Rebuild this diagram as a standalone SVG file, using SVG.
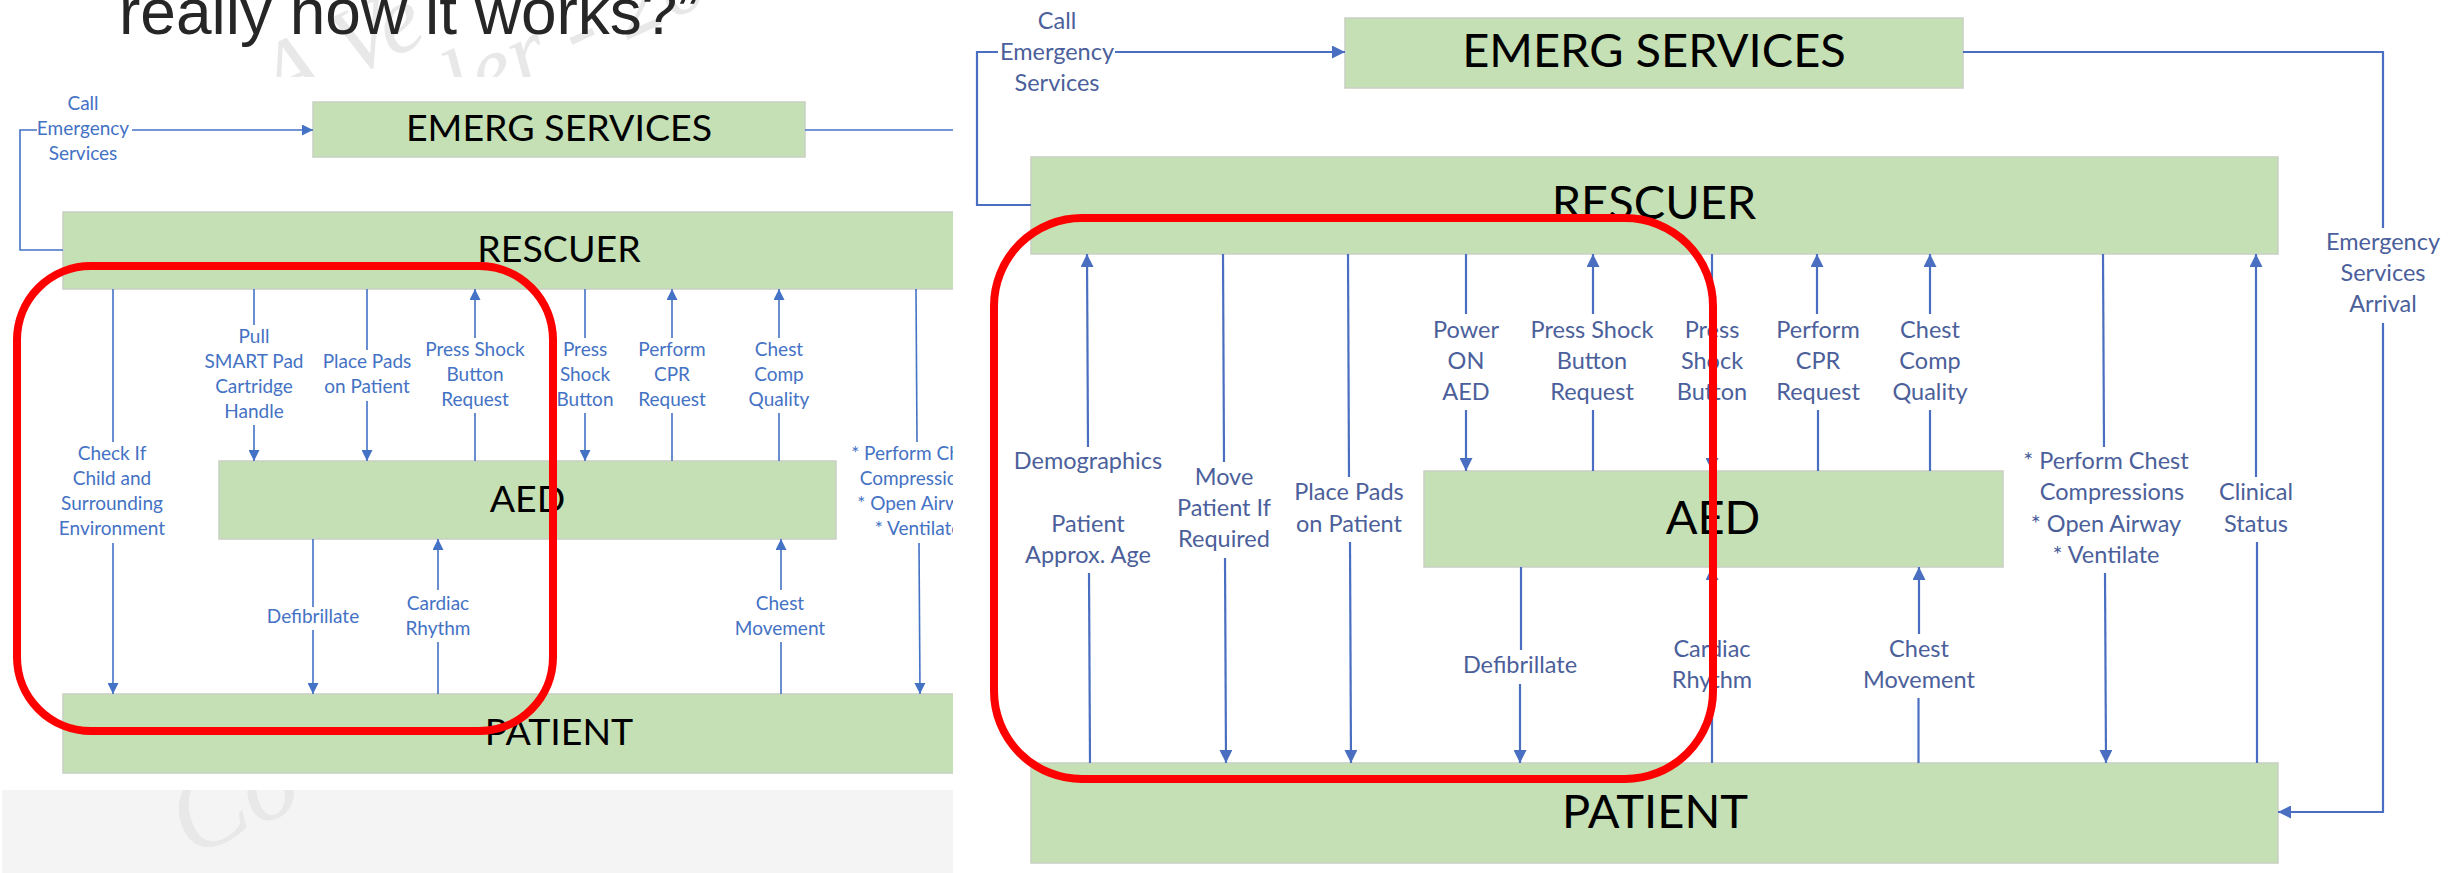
<svg xmlns="http://www.w3.org/2000/svg" width="2458" height="873" viewBox="0 0 2458 873">
  <defs>
    <style>
      .box{fill:#c5e0b4;stroke:#c9cfc4;stroke-width:1.5}
      .nl{font-family:Lato,'Liberation Sans',sans-serif;fill:#000;text-anchor:middle}
      .nl-l{font-size:37.5px}
      .nl-r{font-size:47px}
      .lb{font-family:Lato,'Liberation Sans',sans-serif;text-anchor:middle}
      .lb-l{font-size:19px;fill:#4472c4}
      .lb-r{font-size:23.5px;fill:#4b609a}
      .cl{fill:none;stroke:#4472c4;stroke-width:1.6}
      .cr{fill:none;stroke:#4a6fc0;stroke-width:2.2}
      .al{marker-end:url(#ahL)}
      .ar{marker-end:url(#ahR)}
      .hl{fill:none;stroke:#ff0000;stroke-width:8}
      .wm{font-family:'Liberation Serif',serif;font-style:italic;fill:#e8e8e8}
      .title{font-family:'Liberation Sans',Arial,sans-serif;font-size:64px;fill:#262626}
    </style>
    <marker id="ahL" viewBox="0 0 10 10" refX="10" refY="5" markerWidth="13" markerHeight="11" markerUnits="userSpaceOnUse" orient="auto">
      <path d="M0,0L10,5L0,10z" fill="#4472c4"/>
    </marker>
    <marker id="ahR" viewBox="0 0 10 10" refX="10" refY="5" markerWidth="15" markerHeight="13" markerUnits="userSpaceOnUse" orient="auto">
      <path d="M0,0L10,5L0,10z" fill="#4a6fc0"/>
    </marker>
    <clipPath id="clipL"><rect x="0" y="0" width="953" height="873"/></clipPath>
    <clipPath id="clipWm">
      <rect x="0" y="0" width="953" height="77"/>
      <rect x="0" y="790" width="953" height="83"/>
    </clipPath>
  </defs>

  <rect x="0" y="0" width="2458" height="873" fill="#ffffff"/>

  <!-- left slide: background strip, watermark, title -->
  <g id="slide-left" clip-path="url(#clipL)">
    <rect x="2" y="790" width="951" height="83" fill="#f4f4f4"/>
    <g clip-path="url(#clipWm)">
      <text class="wm" font-size="95" transform="translate(276,112) rotate(-25)">A Ve</text>
      <text class="wm" font-size="95" transform="translate(460,118) rotate(-25)">ler - 20</text>
      <text class="wm" font-size="110" transform="translate(190,858) rotate(-25)" fill="#e4e4e4">Co</text>
    </g>
    <text class="title" x="119" y="34">really how it works?”</text>

    <!-- nodes -->
    <g id="l-emerg">
      <rect class="box" x="313" y="102" width="492" height="55"/>
      <text class="nl nl-l" x="559" y="141">EMERG SERVICES</text>
    </g>
    <g id="l-rescuer">
      <rect class="box" x="63" y="212" width="992" height="77"/>
      <text class="nl nl-l" x="559" y="262">RESCUER</text>
    </g>
    <g id="l-aed">
      <rect class="box" x="219" y="461" width="617" height="78"/>
      <text class="nl nl-l" x="527.5" y="512">AED</text>
    </g>
    <g id="l-patient">
      <rect class="box" x="63" y="694" width="992" height="79"/>
      <text class="nl nl-l" x="559" y="745">PATIENT</text>
    </g>

    <!-- connectors -->
    <g id="l-connectors">
      <polyline class="cl" points="63,250 20,250 20,130 37,130"/>
      <line class="cl al" x1="132" y1="130" x2="313" y2="130"/>
      <line class="cl" x1="805" y1="130" x2="953" y2="130"/>

      <line class="cl" x1="113" y1="289" x2="113" y2="442"/>
      <line class="cl al" x1="113" y1="543" x2="113" y2="694"/>

      <line class="cl" x1="254" y1="289" x2="254" y2="325"/>
      <line class="cl al" x1="254" y1="425" x2="254" y2="461"/>

      <line class="cl" x1="367" y1="289" x2="367" y2="350"/>
      <line class="cl al" x1="367" y1="401" x2="367" y2="461"/>

      <line class="cl al" x1="475" y1="338" x2="475" y2="289"/>
      <line class="cl" x1="475" y1="461" x2="475" y2="413"/>

      <line class="cl" x1="585" y1="289" x2="585" y2="338"/>
      <line class="cl al" x1="585" y1="413" x2="585" y2="461"/>

      <line class="cl al" x1="672" y1="338" x2="672" y2="289"/>
      <line class="cl" x1="672" y1="461" x2="672" y2="413"/>

      <line class="cl al" x1="779" y1="338" x2="779" y2="289"/>
      <line class="cl" x1="779" y1="461" x2="779" y2="413"/>

      <line class="cl" x1="916" y1="289" x2="917" y2="442"/>
      <line class="cl al" x1="919" y1="543" x2="920" y2="694"/>

      <line class="cl" x1="313" y1="539" x2="313" y2="607"/>
      <line class="cl al" x1="313" y1="630" x2="313" y2="694"/>

      <line class="cl al" x1="438" y1="590" x2="438" y2="539"/>
      <line class="cl" x1="438" y1="694" x2="438" y2="642"/>

      <line class="cl al" x1="781" y1="590" x2="781" y2="539"/>
      <line class="cl" x1="781" y1="694" x2="781" y2="642"/>
    </g>

    <!-- connector labels -->
    <g id="l-labels" class="lb lb-l">
      <text><tspan x="83" y="110">Call</tspan><tspan x="83" y="135">Emergency</tspan><tspan x="83" y="160">Services</tspan></text>
      <text><tspan x="112" y="460">Check If</tspan><tspan x="112" y="485">Child and</tspan><tspan x="112" y="510">Surrounding</tspan><tspan x="112" y="535">Environment</tspan></text>
      <text><tspan x="254" y="343">Pull</tspan><tspan x="254" y="368">SMART Pad</tspan><tspan x="254" y="393">Cartridge</tspan><tspan x="254" y="418">Handle</tspan></text>
      <text><tspan x="367" y="368">Place Pads</tspan><tspan x="367" y="393">on Patient</tspan></text>
      <text><tspan x="475" y="356">Press Shock</tspan><tspan x="475" y="381">Button</tspan><tspan x="475" y="406">Request</tspan></text>
      <text><tspan x="585" y="356">Press</tspan><tspan x="585" y="381">Shock</tspan><tspan x="585" y="406">Button</tspan></text>
      <text><tspan x="672" y="356">Perform</tspan><tspan x="672" y="381">CPR</tspan><tspan x="672" y="406">Request</tspan></text>
      <text><tspan x="779" y="356">Chest</tspan><tspan x="779" y="381">Comp</tspan><tspan x="779" y="406">Quality</tspan></text>
      <text><tspan x="918" y="460">* Perform Chest</tspan><tspan x="918" y="485">Compressions</tspan><tspan x="918" y="510">* Open Airway</tspan><tspan x="918" y="535">* Ventilate</tspan></text>
      <text x="313" y="623">Defibrillate</text>
      <text><tspan x="438" y="610">Cardiac</tspan><tspan x="438" y="635">Rhythm</tspan></text>
      <text><tspan x="780" y="610">Chest</tspan><tspan x="780" y="635">Movement</tspan></text>
    </g>

    <rect id="l-highlight" class="hl" x="17" y="266" width="536" height="465" rx="74" ry="74"/>
  </g>

  <!-- right diagram: nodes -->
  <g id="r-emerg">
    <rect class="box" x="1345" y="18" width="618" height="70"/>
    <text class="nl nl-r" x="1654" y="67">EMERG SERVICES</text>
  </g>
  <g id="r-rescuer">
    <rect class="box" x="1031" y="157" width="1247" height="97"/>
    <text class="nl nl-r" x="1654" y="219">RESCUER</text>
  </g>
  <g id="r-aed">
    <rect class="box" x="1424" y="471" width="579" height="96"/>
    <text class="nl nl-r" x="1713" y="534">AED</text>
  </g>
  <g id="r-patient">
    <rect class="box" x="1031" y="763" width="1247" height="100"/>
    <text class="nl nl-r" x="1655" y="828">PATIENT</text>
  </g>

  <!-- right diagram: connectors -->
  <g id="r-connectors">
    <polyline class="cr" points="1031,205 977,205 977,52 998,52"/>
    <line class="cr ar" x1="1115" y1="52" x2="1345" y2="52"/>
    <polyline class="cr" points="1963,52 2383,52 2383,228"/>
    <polyline class="cr ar" points="2383,323 2383,812 2278,812"/>

    <line class="cr ar" x1="1088" y1="447" x2="1087" y2="254"/>
    <line class="cr" x1="1090" y1="763" x2="1089" y2="573"/>

    <line class="cr" x1="1223" y1="254" x2="1224" y2="462"/>
    <line class="cr ar" x1="1225" y1="558" x2="1226" y2="763"/>

    <line class="cr" x1="1348" y1="254" x2="1349" y2="477"/>
    <line class="cr ar" x1="1350" y1="542" x2="1351" y2="763"/>

    <line class="cr" x1="1466" y1="254" x2="1466" y2="314"/>
    <line class="cr ar" x1="1466" y1="410" x2="1466" y2="471"/>

    <line class="cr ar" x1="1593" y1="314" x2="1593" y2="254"/>
    <line class="cr" x1="1593" y1="471" x2="1593" y2="410"/>

    <line class="cr" x1="1712" y1="254" x2="1712" y2="314"/>
    <line class="cr ar" x1="1712" y1="410" x2="1712" y2="471"/>

    <line class="cr ar" x1="1817" y1="314" x2="1817" y2="254"/>
    <line class="cr" x1="1818" y1="471" x2="1818" y2="410"/>

    <line class="cr ar" x1="1930" y1="314" x2="1930" y2="254"/>
    <line class="cr" x1="1930" y1="471" x2="1930" y2="410"/>

    <line class="cr" x1="2103" y1="254" x2="2104" y2="447"/>
    <line class="cr ar" x1="2105" y1="573" x2="2106" y2="763"/>

    <line class="cr ar" x1="2256" y1="477" x2="2256" y2="254"/>
    <line class="cr" x1="2257" y1="763" x2="2257" y2="542"/>

    <line class="cr" x1="1521" y1="567" x2="1521" y2="650"/>
    <line class="cr ar" x1="1520" y1="684" x2="1520" y2="763"/>

    <line class="cr ar" x1="1712" y1="634" x2="1712" y2="567"/>
    <line class="cr" x1="1712" y1="763" x2="1712" y2="705"/>

    <line class="cr ar" x1="1919" y1="634" x2="1919" y2="567"/>
    <line class="cr" x1="1918.5" y1="763" x2="1918.5" y2="698"/>
  </g>

  <!-- right diagram: connector labels -->
  <g id="r-labels" class="lb lb-r">
    <text><tspan x="1057" y="29">Call</tspan><tspan x="1057" y="60">Emergency</tspan><tspan x="1057" y="91">Services</tspan></text>
    <text><tspan x="2383" y="250">Emergency</tspan><tspan x="2383" y="281">Services</tspan><tspan x="2383" y="312">Arrival</tspan></text>
    <text><tspan x="1088" y="469">Demographics</tspan><tspan x="1088" y="532">Patient</tspan><tspan x="1088" y="563">Approx. Age</tspan></text>
    <text><tspan x="1224" y="485">Move</tspan><tspan x="1224" y="516">Patient If</tspan><tspan x="1224" y="547">Required</tspan></text>
    <text><tspan x="1349" y="500">Place Pads</tspan><tspan x="1349" y="532">on Patient</tspan></text>
    <text><tspan x="1466" y="338">Power</tspan><tspan x="1466" y="369">ON</tspan><tspan x="1466" y="400">AED</tspan></text>
    <text><tspan x="1592" y="338">Press Shock</tspan><tspan x="1592" y="369">Button</tspan><tspan x="1592" y="400">Request</tspan></text>
    <text><tspan x="1712" y="338">Press</tspan><tspan x="1712" y="369">Shock</tspan><tspan x="1712" y="400">Button</tspan></text>
    <text><tspan x="1818" y="338">Perform</tspan><tspan x="1818" y="369">CPR</tspan><tspan x="1818" y="400">Request</tspan></text>
    <text><tspan x="1930" y="338">Chest</tspan><tspan x="1930" y="369">Comp</tspan><tspan x="1930" y="400">Quality</tspan></text>
    <text><tspan x="2106" y="469">* Perform Chest</tspan><tspan x="2112" y="500">Compressions</tspan><tspan x="2106" y="532">* Open Airway</tspan><tspan x="2106" y="563">* Ventilate</tspan></text>
    <text><tspan x="2256" y="500">Clinical</tspan><tspan x="2256" y="532">Status</tspan></text>
    <text x="1520" y="673">Defibrillate</text>
    <text><tspan x="1712" y="657">Cardiac</tspan><tspan x="1712" y="688">Rhythm</tspan></text>
    <text><tspan x="1919" y="657">Chest</tspan><tspan x="1919" y="688">Movement</tspan></text>
  </g>

  <rect id="r-highlight" class="hl" x="994" y="218" width="719" height="561" rx="88" ry="88"/>
</svg>
